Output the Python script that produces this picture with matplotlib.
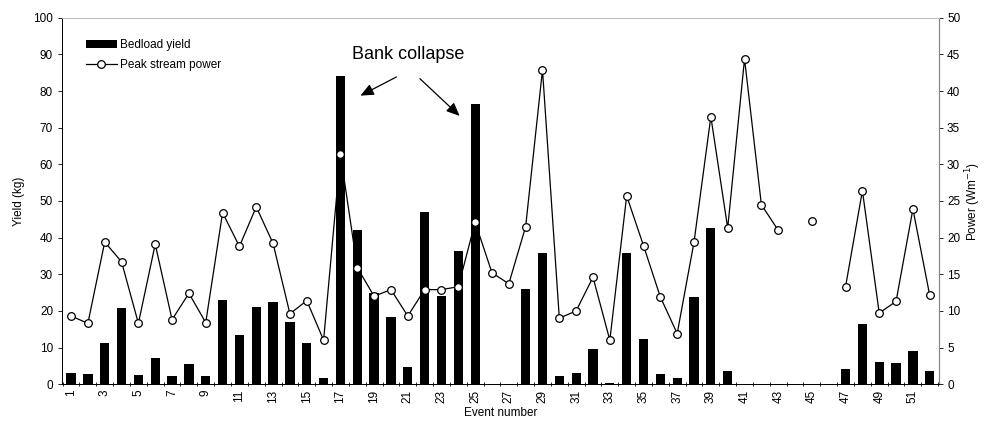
import numpy as np
import matplotlib
matplotlib.use("Agg")
import matplotlib.pyplot as plt

plt.rcParams['font.family'] = ['Liberation Sans', 'DejaVu Sans']

events = list(range(1, 53))
bedload_yield = [3.0, 2.7, 11.2, 20.8, 2.4, 7.1, 2.3, 5.6, 2.2, 23.0,
                 13.3, 21.0, 22.5, 17.0, 11.2, 1.8, 84.0, 42.1, 25.0, 18.4,
                 4.7, 46.9, 24.1, 36.4, 76.5, 0.0, 0.0, 25.9, 35.8, 2.3,
                 3.1, 9.6, 0.4, 35.7, 12.3, 2.7, 1.8, 23.9, 42.7, 3.6,
                 0.0, 0.0, 0.0, 0.0, 0.0, 0.0, 4.1, 16.4, 6.0, 5.7,
                 9.0, 3.6]
peak_power = [9.3, 8.3, 19.4, 16.7, 8.3, 19.1, 8.8, 12.4, 8.4, 23.4,
              18.8, 24.2, 19.2, 9.6, 11.4, 6.0, 31.4, 15.9, 12.0, 12.9,
              9.3, 12.9, 12.9, 13.3, 22.1, 15.2, 13.7, 21.5, 42.9, 9.0,
              10.0, 14.6, 6.0, 25.7, 18.9, 11.9, 6.9, 19.4, 36.5, 21.3,
              44.4, 24.5, 21.0, np.nan, 22.3, np.nan, 13.3, 26.4, 9.7, 11.3,
              23.9, 12.1]
xtick_labels = [str(e) for e in events if e % 2 == 1]

FS = 8.5

fig = plt.figure(figsize=(9.86, 4.24), dpi=100)
ax = fig.add_axes([0.063, 0.094, 0.889, 0.864])
ax2 = ax.twinx()

bars = ax.bar(events, bedload_yield, width=0.55, color='black', label='Bedload yield', zorder=2)
line, = ax2.plot(events, peak_power, color='black', lw=0.9, marker='o', markersize=5.5,
                 markerfacecolor='white', markeredgecolor='black', markeredgewidth=0.9,
                 label='Peak stream power', zorder=3)

ax.set_xlim(0.47, 52.53)
ax.set_ylim(0, 100)
ax2.set_ylim(0, 50)
ax.set_yticks(np.arange(0, 101, 10))
ax2.set_yticks(np.arange(0, 51, 5))

ax.set_xticks([e for e in events if e % 2 == 1])
ax.set_xticklabels(xtick_labels, rotation=90, fontsize=FS)
ax.set_xticks(np.arange(0.5, 53, 1), minor=True)
ax.tick_params(axis='x', which='major', length=0, pad=4)
ax.tick_params(axis='x', which='minor', length=3, direction='inout', width=0.6)
ax.tick_params(axis='y', labelsize=FS, length=3, width=0.6, direction='out')
ax2.tick_params(axis='y', labelsize=FS, length=3, width=0.6, direction='out', pad=3)

ax.set_ylabel('Yield (kg)', fontsize=FS, labelpad=6)
ax2.set_ylabel('Power (Wm$^{-1}$)', fontsize=FS, labelpad=2)
ax.set_xlabel('Event number', fontsize=FS, labelpad=3)

for a in (ax, ax2):
    a.spines['top'].set_color('#bbbbbb')
    a.spines['top'].set_linewidth(0.6)
    a.spines['left'].set_linewidth(0.7)
    a.spines['bottom'].set_linewidth(0.7)
    a.spines['right'].set_color('#888888')
    a.spines['right'].set_linewidth(0.8)

ax.legend([bars, line], ['Bedload yield', 'Peak stream power'], loc='upper left',
          bbox_to_anchor=(0.015, 0.97), frameon=False, fontsize=FS,
          handlelength=2.6, handletextpad=0.3, labelspacing=0.65)

ax.text(21.0, 90.0, 'Bank collapse', fontsize=13, ha='center', va='center')
arrowprops = dict(arrowstyle='-|>,head_length=0.8,head_width=0.35', color='black', lw=0.9)
ax.annotate('', xy=(18.04, 78.4), xytext=(20.47, 84.2), arrowprops=arrowprops)
ax.annotate('', xy=(24.2, 72.7), xytext=(21.6, 83.9), arrowprops=arrowprops)

fig.savefig('out.png', dpi=100)
